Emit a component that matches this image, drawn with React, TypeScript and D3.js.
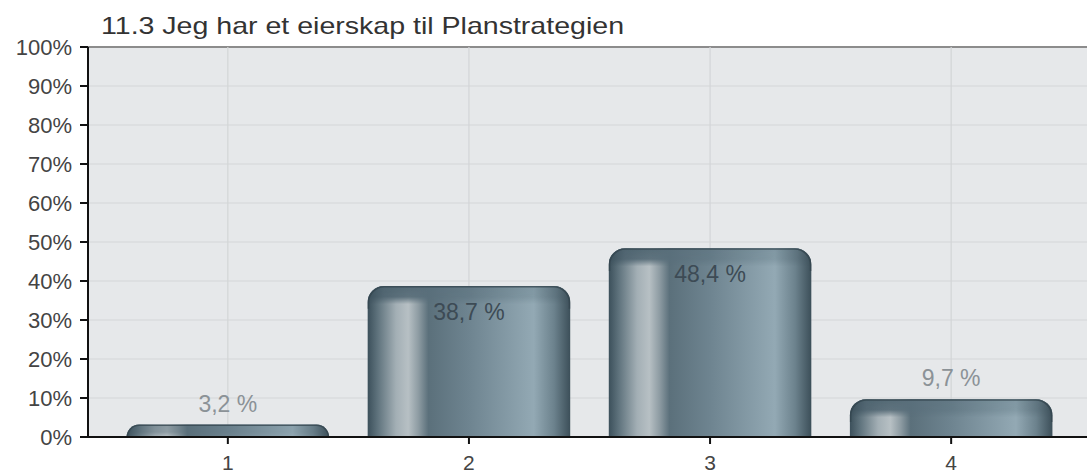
import React from "react";
import * as d3 from "d3";

const title = "11.3 Jeg har et eierskap til Planstrategien";
const categories = ["1", "2", "3", "4"];
const values = [3.2, 38.7, 48.4, 9.7];
const valueLabels = ["3,2 %", "38,7 %", "48,4 %", "9,7 %"];
const yTicks = [0, 10, 20, 30, 40, 50, 60, 70, 80, 90, 100];

const W = 1087;
const H = 474;
const FONT = "'Liberation Sans', Arial, Helvetica, sans-serif";

export default function App() {
  const x = d3.scaleLinear().domain([0.42, 4.58]).range([88, 1091]);
  const y = d3.scaleLinear().domain([0, 100]).range([437, 47]);
  const step = x(2) - x(1);
  const barW = step * 0.84;
  const left = x.range()[0];
  const right = x.range()[1];

  const barPath = (x0: number, y0: number, w: number, h: number, r: number) => {
    const rr = Math.min(r, h, w / 2);
    const yb = y0 + h;
    return `M${x0},${yb}L${x0},${y0 + rr}A${rr},${rr} 0 0 1 ${x0 + rr},${y0}L${x0 + w - rr},${y0}A${rr},${rr} 0 0 1 ${x0 + w},${y0 + rr}L${x0 + w},${yb}Z`;
  };
  const topOutline = (x0: number, y0: number, w: number, h: number, r: number) => {
    const rr = Math.min(r, h, w / 2);
    const yb = y0 + Math.min(h, rr + 6);
    return `M${x0},${yb}L${x0},${y0 + rr}A${rr},${rr} 0 0 1 ${x0 + rr},${y0}L${x0 + w - rr},${y0}A${rr},${rr} 0 0 1 ${x0 + w},${y0 + rr}L${x0 + w},${yb}`;
  };

  return (
    <svg width={W} height={H} style={{ display: "block", position: "absolute", left: 0, top: 0 }}>
      <defs>
        <linearGradient id="barGrad" x1="0" x2="1" y1="0" y2="0">
          <stop offset="0" stopColor="#3c505b" />
          <stop offset="0.05" stopColor="#5f737d" />
          <stop offset="0.14" stopColor="#a3afb5" />
          <stop offset="0.2" stopColor="#b7c0c4" />
          <stop offset="0.25" stopColor="#8e9ca3" />
          <stop offset="0.3" stopColor="#5b707b" />
          <stop offset="0.5" stopColor="#6e8490" />
          <stop offset="0.82" stopColor="#93a9b4" />
          <stop offset="0.92" stopColor="#6c828d" />
          <stop offset="1" stopColor="#3c4f59" />
        </linearGradient>
        <linearGradient id="capGrad" x1="0" x2="1" y1="0" y2="0">
          <stop offset="0" stopColor="#3c505b" />
          <stop offset="0.08" stopColor="#4f6470" />
          <stop offset="0.5" stopColor="#637985" />
          <stop offset="0.82" stopColor="#8198a3" />
          <stop offset="0.93" stopColor="#5d727d" />
          <stop offset="1" stopColor="#3c4f59" />
        </linearGradient>
        <linearGradient id="fadeGrad" x1="0" x2="0" y1="0" y2="1">
          <stop offset="0" stopColor="#fff" stopOpacity="1" />
          <stop offset="0.6" stopColor="#fff" stopOpacity="0.9" />
          <stop offset="1" stopColor="#fff" stopOpacity="0" />
        </linearGradient>
        <mask id="capMask" maskContentUnits="objectBoundingBox">
          <rect x="0" y="0" width="1" height="1" fill="url(#fadeGrad)" />
        </mask>
        <clipPath id="plotClip">
          <rect x={left} y={y(100) - 2} width={right - left} height={y(0) - y(100) + 2} />
        </clipPath>
      </defs>

      <text
        transform="translate(101,34) scale(1.19,1)"
        fontFamily={FONT}
        fontSize={24}
        fill="#333"
      >
        {title}
      </text>

      {/* plot background */}
      <rect x={left} y={y(100)} width={right - left} height={y(0) - y(100)} fill="#e6e8ea" />

      {/* horizontal grid */}
      {yTicks.map((t) => (
        <line key={"h" + t} x1={left} x2={right} y1={y(t)} y2={y(t)} stroke="#d3d5d7" strokeWidth={1.2} />
      ))}
      {/* top border */}
      <line x1={left} x2={right} y1={y(100)} y2={y(100)} stroke="#8c8c8c" strokeWidth={2} />
      {/* vertical grid */}
      {categories.map((c, i) => (
        <line key={"v" + c} x1={x(i + 1)} x2={x(i + 1)} y1={y(100)} y2={y(0)} stroke="#d3d5d7" strokeWidth={1.2} />
      ))}

      {/* bars */}
      <g clipPath="url(#plotClip)">
        {values.map((v, i) => {
          const x0 = x(i + 1) - barW / 2;
          const y0 = y(v);
          const h = y(0) - y0;
          const big = h > 20;
          const capH = big ? 18 : h;
          return (
            <g key={"b" + i}>
              <path d={barPath(x0, y0, barW, h, 16)} fill="url(#barGrad)" />
              <path
                d={barPath(x0, y0, barW, capH, 16)}
                fill="url(#capGrad)"
                mask="url(#capMask)"
                opacity={big ? 1 : 0.45}
              />
              <path
                d={topOutline(x0 + 0.75, y0 + 0.75, barW - 1.5, h - 0.75, 16)}
                fill="none"
                stroke="#33444d"
                strokeOpacity={0.75}
                strokeWidth={1.5}
              />
            </g>
          );
        })}
      </g>

      {/* value labels */}
      {values.map((v, i) => {
        const inside = v > 20;
        return (
          <text
            key={"l" + i}
            x={x(i + 1)}
            y={inside ? y(v) + 34 : y(v) - 13}
            textAnchor="middle"
            fontFamily={FONT}
            fontSize={23}
            fill={inside ? "#3d4b55" : "#8b9297"}
          >
            {valueLabels[i]}
          </text>
        );
      })}

      {/* y axis */}
      <line x1={left} x2={left} y1={y(100)} y2={y(0)} stroke="#111" strokeWidth={2} />
      {yTicks.map((t) => (
        <g key={"yt" + t}>
          <line x1={left - 8} x2={left} y1={y(t)} y2={y(t)} stroke="#111" strokeWidth={2} />
          <text x={72} y={y(t) + 8} textAnchor="end" fontFamily={FONT} fontSize={22} fill="#444">
            {t + "%"}
          </text>
        </g>
      ))}

      {/* x axis */}
      <line x1={left} x2={right} y1={y(0)} y2={y(0)} stroke="#111" strokeWidth={2} />
      {categories.map((c, i) => (
        <g key={"xt" + c}>
          <line x1={x(i + 1)} x2={x(i + 1)} y1={y(0)} y2={y(0) + 7} stroke="#111" strokeWidth={2} />
          <text x={x(i + 1)} y={y(0) + 33} textAnchor="middle" fontFamily={FONT} fontSize={21} fill="#444">
            {c}
          </text>
        </g>
      ))}
    </svg>
  );
}
